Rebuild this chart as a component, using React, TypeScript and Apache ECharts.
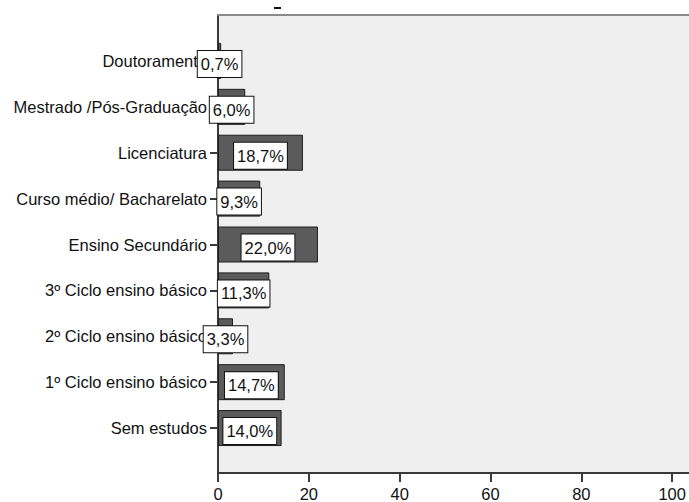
import React, { useEffect, useRef } from "react";
import * as echarts from "echarts";

// Education level distribution (percent of respondents)
const categories = [
  "Doutoramento",
  "Mestrado /Pós-Graduação",
  "Licenciatura",
  "Curso médio/ Bacharelato",
  "Ensino Secundário",
  "3º Ciclo ensino básico",
  "2º Ciclo ensino básico",
  "1º Ciclo ensino básico",
  "Sem estudos",
];
const percentages = [0.7, 6.0, 18.7, 9.3, 22.0, 11.3, 3.3, 14.7, 14.0];
const xTicks = [0, 20, 40, 60, 80, 100];

const FONT = "'Liberation Sans', Arial, sans-serif";

export default function App() {
  const ref = useRef<HTMLDivElement>(null);

  useEffect(() => {
    document.body.style.margin = "0";
    if (!ref.current) return;
    const chart = echarts.init(ref.current, undefined, { renderer: "svg" });
    const xMax = 103.7;

    chart.setOption({
      animation: false,
      textStyle: { fontFamily: FONT },
      graphic: [
        {
          type: "rect",
          shape: { x: 274, y: 7, width: 7, height: 2 },
          style: { fill: "#111" },
        },
      ],
      grid: [
        {
          left: 218,
          right: 0,
          top: 15,
          bottom: 27,
          show: true,
          backgroundColor: "#efefef",
          borderWidth: 0,
        },
        { left: 218, right: 0, top: 38, height: 413 },
      ],
      xAxis: [
        {
          gridIndex: 0,
          type: "value",
          min: 0,
          max: xMax,
          position: "bottom",
          axisLine: { show: true, onZero: false, lineStyle: { color: "#3a3a3a", width: 2 } },
          axisTick: {
            show: true,
            length: 9,
            customValues: xTicks,
            lineStyle: { color: "#3a3a3a", width: 2 },
          },
          axisLabel: {
            customValues: xTicks,
            fontSize: 16.5,
            margin: 12,
            color: "#111",
            fontFamily: FONT,
          },
          splitLine: { show: false },
        },
        {
          gridIndex: 0,
          type: "value",
          min: 0,
          max: xMax,
          position: "top",
          axisLine: { show: true, onZero: false, lineStyle: { color: "#8a8a8a", width: 2 } },
          axisTick: { show: false },
          axisLabel: { show: false },
          splitLine: { show: false },
        },
        {
          gridIndex: 1,
          type: "value",
          min: 0,
          max: xMax,
          show: false,
          splitLine: { show: false },
        },
      ],
      yAxis: [
        {
          gridIndex: 0,
          type: "value",
          min: 0,
          max: 1,
          axisLine: { show: true, onZero: false, lineStyle: { color: "#3a3a3a", width: 2 } },
          axisTick: { show: false },
          axisLabel: { show: false },
          splitLine: { show: false },
        },
        {
          gridIndex: 1,
          type: "category",
          inverse: true,
          data: categories,
          axisLine: { show: false },
          axisTick: {
            show: true,
            alignWithLabel: true,
            length: 8,
            lineStyle: { color: "#3a3a3a", width: 2 },
          },
          axisLabel: {
            fontSize: 16.5,
            margin: 11,
            color: "#111",
            fontFamily: FONT,
          },
        },
      ],
      series: [
        {
          type: "bar",
          xAxisIndex: 2,
          yAxisIndex: 1,
          data: percentages,
          barWidth: 36,
          itemStyle: { color: "#5b5b5b", borderColor: "#1e1e1e", borderWidth: 1 },
          label: {
            show: true,
            position: "inside",
            offset: [0, 3],
            formatter: (p: any) => p.value.toFixed(1).replace(".", ",") + "%",
            color: "#111",
            fontSize: 16.5,
            fontFamily: FONT,
            backgroundColor: "#ffffff",
            borderColor: "#111",
            borderWidth: 1,
            padding: [5, 3, 4, 3],
          },
        },
      ],
    });

    return () => chart.dispose();
  }, []);

  return <div ref={ref} style={{ width: 689, height: 502 }} />;
}
